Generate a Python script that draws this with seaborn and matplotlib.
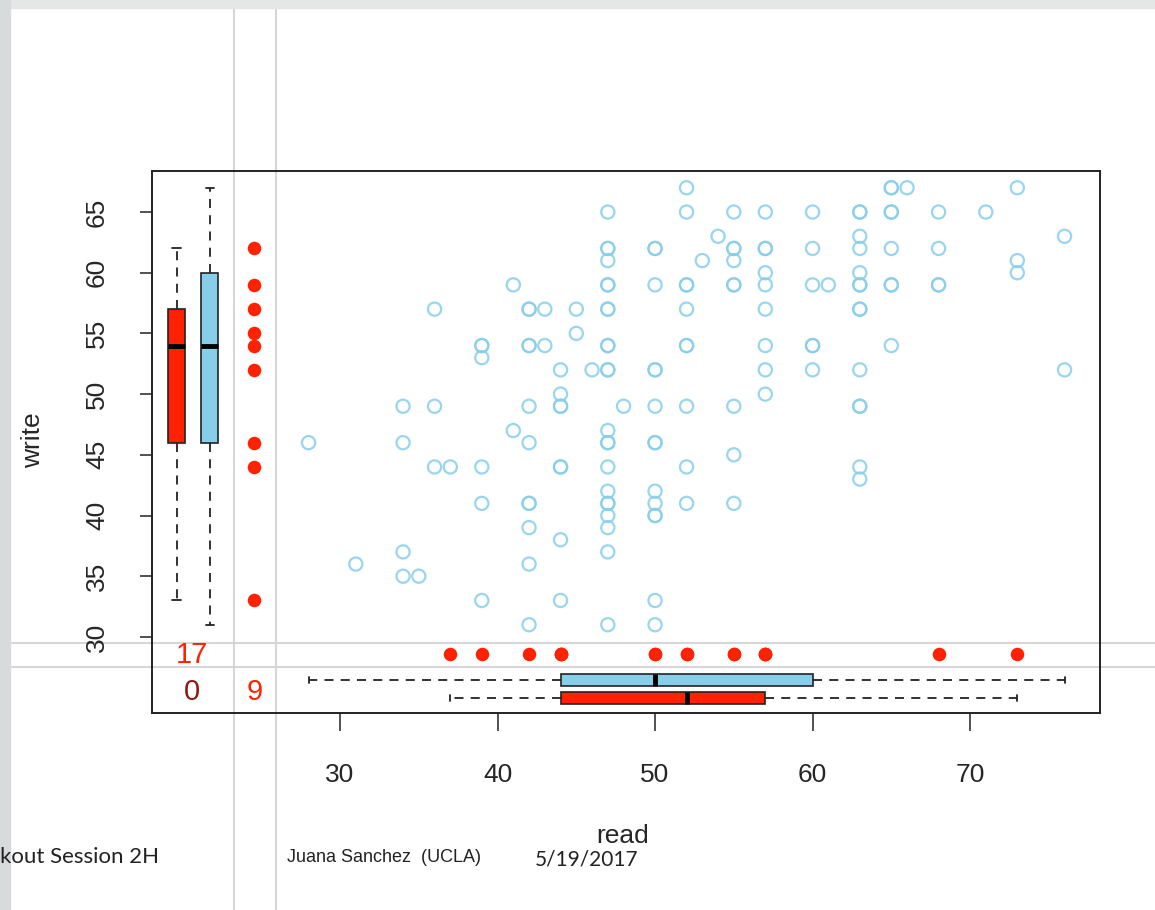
import matplotlib
matplotlib.use('Agg')
import matplotlib.pyplot as plt
import seaborn as sns
import pandas as pd
from matplotlib.patches import Rectangle

# complete cases, one line per read value
read_obs = [
    28,
    31,
    34, 34, 34, 34,
    35,
    36, 36, 36,
    37,
    39, 39, 39, 39, 39, 39,
    41, 41,
    42, 42, 42, 42, 42, 42, 42, 42, 42, 42, 42,
    43, 43,
    44, 44, 44, 44, 44, 44, 44, 44,
    45, 45,
    46,
    47, 47, 47, 47, 47, 47, 47, 47, 47, 47, 47, 47, 47, 47, 47, 47, 47, 47, 47, 47, 47, 47, 47,
    48,
    50, 50, 50, 50, 50, 50, 50, 50, 50, 50, 50, 50, 50, 50,
    52, 52, 52, 52, 52, 52, 52, 52, 52, 52,
    53,
    54,
    55, 55, 55, 55, 55, 55, 55, 55, 55,
    57, 57, 57, 57, 57, 57, 57, 57, 57,
    60, 60, 60, 60, 60, 60,
    61,
    63, 63, 63, 63, 63, 63, 63, 63, 63, 63, 63, 63, 63, 63,
    65, 65, 65, 65, 65, 65, 65, 65,
    66,
    68, 68, 68, 68,
    71,
    73, 73, 73,
    76, 76,
]
write_obs = [
    46,
    36,
    49, 46, 37, 35,
    35,
    57, 49, 44,
    44,
    54, 54, 53, 44, 41, 33,
    59, 47,
    57, 57, 54, 54, 49, 46, 41, 41, 39, 36, 31,
    57, 54,
    52, 50, 49, 49, 44, 44, 38, 33,
    57, 55,
    52,
    65, 62, 62, 61, 59, 59, 57, 57, 54, 54, 52, 52, 47, 46, 46, 44, 42, 41, 41, 40, 39, 37, 31,
    49,
    62, 62, 59, 52, 52, 49, 46, 46, 42, 41, 40, 40, 33, 31,
    67, 65, 59, 59, 57, 54, 54, 49, 44, 41,
    61,
    63,
    65, 62, 62, 61, 59, 59, 49, 45, 41,
    65, 62, 62, 60, 59, 57, 54, 52, 50,
    65, 62, 59, 54, 54, 52,
    59,
    65, 65, 63, 62, 60, 59, 59, 57, 57, 52, 49, 49, 44, 43,
    67, 67, 65, 65, 62, 59, 59, 54,
    67,
    65, 62, 59, 59,
    65,
    67, 61, 60,
    63, 52,
]

# write where read is missing, read where write is missing
write_read_missing = [62, 59, 57, 55, 54, 52, 46, 44, 33]
read_write_missing = [37, 39, 42, 44, 44, 44, 50, 50, 52, 52, 55, 55, 57, 57, 57, 68, 73]
n_both_missing = 0

# boxplot summaries: lower whisker, q1, median, q3, upper whisker
write_box_missing = [33, 46, 54, 57, 62]
write_box_observed = [31, 46, 54, 60, 67]
read_box_observed = [28, 44, 50, 60, 76]
read_box_missing = [37, 44, 52, 57, 73]

x_ticks = [30, 40, 50, 60, 70]
y_ticks = [30, 35, 40, 45, 50, 55, 60, 65]

SKY = '#87ceeb'
RED = '#ff2200'
DARKRED = '#8b1a10'
GRID = '#d6d6d6'

sns.set_style('white')
plt.rcParams['font.family'] = ['Liberation Sans', 'DejaVu Sans']

W, H = 1155, 910
fig = plt.figure(figsize=(W / 100, H / 100), dpi=100)


def fx(px):
    return px / W


def fy(py):
    return 1 - py / H


# slide background strips
fig.patches.append(Rectangle((0, fy(8)), 1, 1 - fy(8), transform=fig.transFigure,
                             color='#e5e7e7', zorder=0))
fig.patches.append(Rectangle((0, 0), fx(10), 1, transform=fig.transFigure,
                             color='#d8dbdc', zorder=0))

ax = fig.add_axes([fx(152), fy(713), fx(1100) - fx(152), fy(171) - fy(713)])
ax.set_xlim(18.06, 78.25)
ax.set_ylim(23.73, 68.38)

# margin separators (run across the slide)
for xv in (23.29, 25.92):
    ax.axvline(xv, ymin=-0.37, ymax=1.31, clip_on=False, color=GRID, lw=1.5, zorder=0.5)
for yv in (29.52, 27.55):
    ax.axhline(yv, xmin=-0.17, xmax=1.06, clip_on=False, color=GRID, lw=1.5, zorder=0.5)

df = pd.DataFrame({'read': read_obs, 'write': write_obs})
sns.scatterplot(data=df, x='read', y='write', ax=ax, marker='o', s=90,
                facecolors='none', edgecolor=SKY, linewidth=1.6, alpha=0.85, zorder=3)

# missing-value markers in the margins
sns.scatterplot(x=[24.56] * len(write_read_missing), y=write_read_missing, ax=ax,
                color=RED, s=95, linewidth=0, zorder=3)
sns.scatterplot(x=read_write_missing, y=[28.57] * len(read_write_missing), ax=ax,
                color=RED, s=95, linewidth=0, zorder=3)


def five(v):
    return dict(whislo=v[0], q1=v[1], med=v[2], q3=v[3], whishi=v[4], fliers=[])


box_kw = dict(patch_artist=True, showfliers=False, manage_ticks=False, zorder=4,
              whiskerprops=dict(linestyle=(0, (5, 4)), color='#222222', linewidth=1.3),
              capprops=dict(color='#222222', linewidth=1.3),
              medianprops=dict(color='black', linewidth=3.5, solid_capstyle='butt'),
              boxprops=dict(edgecolor='#222222', linewidth=1.2))

b1 = ax.bxp([five(write_box_missing), five(write_box_observed)], positions=[19.63, 21.73],
            widths=1.08, orientation='vertical', **box_kw)
b2 = ax.bxp([five(read_box_observed), five(read_box_missing)], positions=[26.45, 24.94],
            widths=1.0, orientation='horizontal', **box_kw)
for patch, c in zip(b1['boxes'] + b2['boxes'], [RED, SKY, SKY, RED]):
    patch.set_facecolor(c)
for med in b1['medians'] + b2['medians']:
    med.set_zorder(5)

# missing counts
ax.text(20.6, 28.5, str(len(read_write_missing)), color=RED, fontsize=21, ha='center', va='center')
ax.text(20.6, 25.46, str(n_both_missing), color=DARKRED, fontsize=21, ha='center', va='center')
ax.text(24.56, 25.46, str(len(write_read_missing)), color=RED, fontsize=21, ha='center', va='center')

ax.set_xticks(x_ticks)
ax.set_yticks(y_ticks)
ax.tick_params(axis='x', bottom=True, length=13, width=1.2, pad=23, labelsize=19, color='#333333')
ax.tick_params(axis='y', left=True, length=9, width=1.2, pad=22, labelsize=19, color='#333333')
for lab in ax.get_yticklabels():
    lab.set_rotation(90)
    lab.set_va('center')
for sp in ax.spines.values():
    sp.set_color('#222222')
    sp.set_linewidth(1.4)

ax.set_xlabel('read', fontsize=19)
ax.xaxis.set_label_coords(0.496, -0.205)
ax.set_ylabel('write', fontsize=19)
ax.yaxis.set_label_coords(-0.113, 0.504)

# slide footer
foot = dict(color='#222222', va='center')
fig.text(fx(0), fy(857), 'kout Session 2H', ha='left', fontsize=16,
         family=['Lato', 'DejaVu Sans'], **foot)
fig.text(fx(287), fy(857), 'Juana Sanchez  (UCLA)', ha='left', fontsize=13, **foot)
fig.text(fx(535), fy(860), '5/19/2017', ha='left', fontsize=15,
         family=['Lato', 'DejaVu Sans'], **foot)

fig.savefig('out.png', dpi=100)
